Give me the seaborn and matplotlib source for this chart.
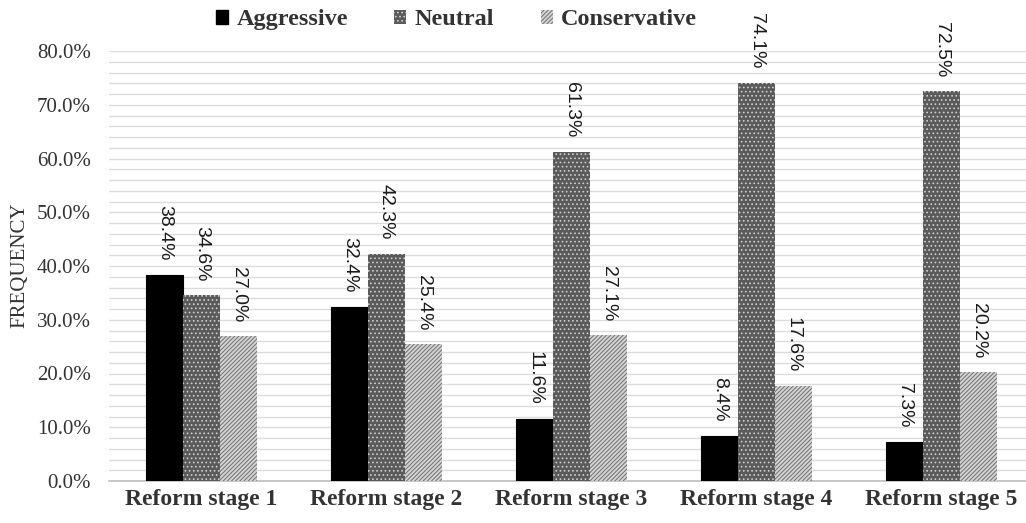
import matplotlib
matplotlib.use("Agg")
import matplotlib.pyplot as plt
from matplotlib.ticker import MultipleLocator, FuncFormatter
import seaborn as sns
import pandas as pd

# Share of each strategy type at every stage of the reform (percent)
stages = ["Reform stage 1", "Reform stage 2", "Reform stage 3",
          "Reform stage 4", "Reform stage 5"]
strategies = ["Aggressive", "Neutral", "Conservative"]
aggressive = [38.4, 32.4, 11.6, 8.4, 7.3]
neutral = [34.6, 42.3, 61.3, 74.1, 72.5]
conservative = [27.0, 25.4, 27.1, 17.6, 20.2]

df = pd.DataFrame({
    "stage": stages * 3,
    "strategy": [s for s in strategies for _ in stages],
    "freq": aggressive + neutral + conservative,
})

sns.set_theme(style="white")
plt.rcParams["hatch.linewidth"] = 0.7

fig = plt.figure(figsize=(10.26, 5.23), dpi=100)
ax = fig.add_axes([109 / 1026, 42 / 523, 1 - 109 / 1026, 430 / 523])

# fill, hatch colour and hatch pattern for each strategy
styles = {
    "Aggressive": ("#000000", "#000000", None),
    "Neutral": ("#5a5a5a", "#cfcfcf", "...."),
    "Conservative": ("#d4d4d4", "#707070", "////////"),
}
palette = {k: v[0] for k, v in styles.items()}

sns.barplot(data=df, x="stage", y="freq", hue="strategy", order=stages,
            hue_order=strategies, palette=palette, width=0.6, ax=ax,
            saturation=1, legend=True, zorder=3)

for cont, name in zip(ax.containers, strategies):
    face, hcol, hatch = styles[name]
    for bar in cont:
        bar.set_facecolor(face)
        bar.set_edgecolor(hcol)
        bar.set_linewidth(0 if hatch else 0.8)
        if hatch:
            bar.set_hatch(hatch)
    vals = [b.get_height() for b in cont]
    ax.bar_label(cont, labels=[f"{v:.1f}%" for v in vals], padding=10,
                 rotation=270, fontsize=14, color="#1a1a1a",
                 family="Liberation Sans")

ax.set_ylim(0, 80)
ax.set_xlim(-0.5, -0.5 + (1026 - 109) / 185)
ax.yaxis.set_major_locator(MultipleLocator(10))
ax.yaxis.set_minor_locator(MultipleLocator(2))
ax.yaxis.set_major_formatter(FuncFormatter(lambda v, p: f"{v:.1f}%"))
ax.grid(True, axis="y", which="both", color="#dcdcdc", linewidth=1, zorder=0)
ax.set_axisbelow(True)

for s in ["left", "right", "top"]:
    ax.spines[s].set_visible(False)
ax.spines["bottom"].set_color("#bdbdbd")
ax.spines["bottom"].set_linewidth(1.2)

ax.tick_params(axis="y", which="both", length=0, pad=13)
ax.tick_params(axis="x", length=0, pad=6)
for t in ax.get_yticklabels():
    t.set_family("Liberation Serif")
    t.set_fontsize(15)
    t.set_color("#333333")
for t in ax.get_xticklabels():
    t.set_family("Liberation Serif")
    t.set_fontsize(17)
    t.set_fontweight("bold")
    t.set_color("#333333")

ax.set_xlabel("")
ax.set_ylabel("FREQUENCY", family="Liberation Serif", fontsize=15,
              color="#333333")
ax.yaxis.set_label_coords(0.029, 0.493, transform=fig.transFigure)

handles, labels = ax.get_legend_handles_labels()
for h, name in zip(handles, labels):
    face, hcol, hatch = styles[name]
    h.set_facecolor(face)
    h.set_edgecolor(hcol)
    if hatch:
        h.set_hatch(hatch)
        h.set_linewidth(0)
ax.legend(handles, labels, loc="center", bbox_to_anchor=(0.445, 0.962),
          bbox_transform=fig.transFigure, ncol=3, frameon=False,
          handlelength=0.5, handleheight=0.5, handletextpad=0.35,
          columnspacing=1.9,
          prop={"family": "Liberation Serif", "weight": "bold", "size": 17.5})
for t in ax.get_legend().get_texts():
    t.set_color("#333333")

fig.savefig("out.png", dpi=100)
